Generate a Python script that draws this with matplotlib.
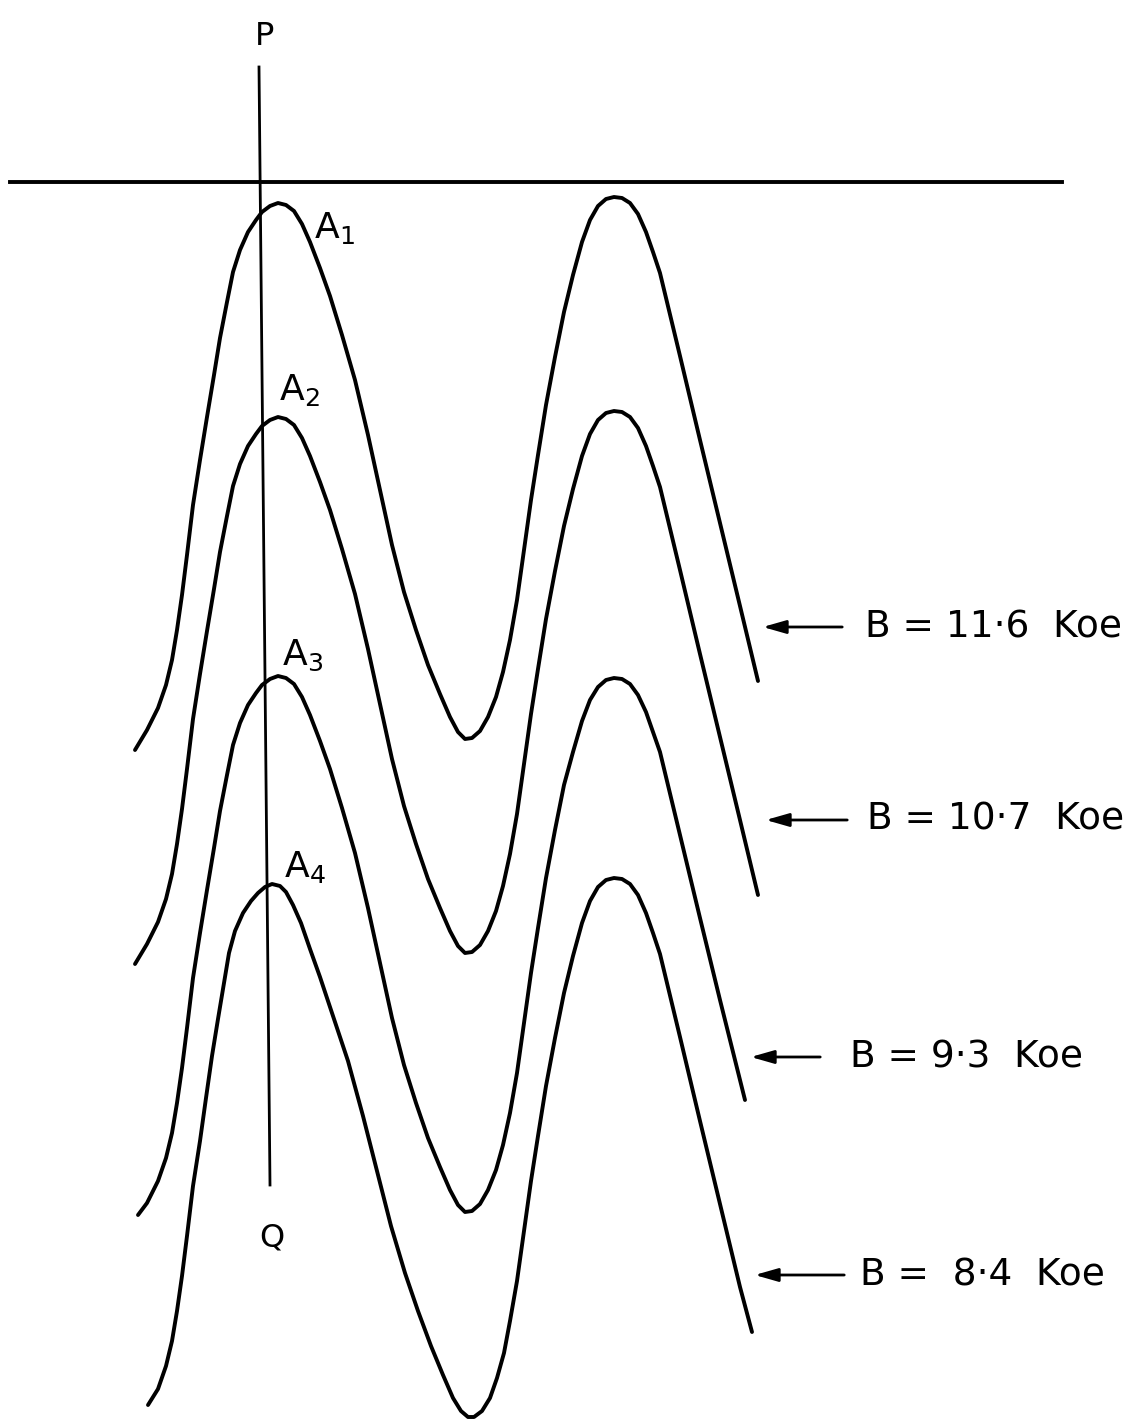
import matplotlib
matplotlib.use("Agg")
import matplotlib.pyplot as plt

plt.rcParams['font.family'] = ['DejaVu Sans']
plt.rcParams['mathtext.default'] = 'regular'

# curves (pixel coords, y down)
x_116 = [135, 147, 158, 166, 172, 177, 182, 187, 193, 200, 207, 214, 220, 227, 233, 240, 248, 256, 262, 270,
         278, 286, 294, 302, 310, 320, 330, 342, 355, 368, 380, 392, 404, 416, 428, 440, 450, 458, 465, 472,
         480, 488, 496, 503, 510, 517, 524, 531, 538, 546, 555, 564, 573, 582, 590, 598, 606, 614, 622, 630,
         638, 646, 653, 660, 680, 700, 720, 740, 758]
y_116 = [750, 730, 708, 685, 660, 630, 595, 555, 505, 460, 417, 375, 338, 302, 272, 250, 232, 220, 212, 206,
         203, 205, 211, 224, 242, 268, 296, 335, 380, 435, 490, 545, 592, 630, 665, 694, 717, 732, 739, 738,
         731, 717, 697, 672, 640, 600, 550, 500, 455, 405, 357, 312, 275, 242, 220, 206, 199, 197, 198, 203,
         214, 232, 252, 273, 356, 440, 523, 606, 681]

x_107 = x_116
y_107 = [964, 944, 922, 899, 874, 844, 809, 769, 719, 674, 631, 589, 552, 516, 486, 464, 446, 434, 426, 420,
         417, 419, 425, 438, 456, 482, 510, 549, 594, 649, 704, 759, 806, 844, 879, 908, 931, 946, 953, 952,
         945, 931, 911, 886, 854, 814, 764, 714, 669, 619, 571, 526, 489, 456, 434, 420, 413, 411, 412, 417,
         428, 446, 466, 487, 570, 654, 737, 820, 895]

x_93 = [138, 147, 158, 166, 172, 177, 182, 187, 193, 200, 207, 214, 220, 227, 233, 240, 248, 256, 262, 270,
        278, 286, 294, 302, 310, 320, 330, 342, 355, 368, 380, 392, 404, 416, 428, 440, 450, 458, 465, 472,
        480, 488, 496, 503, 510, 517, 524, 531, 538, 546, 555, 564, 573, 582, 590, 598, 606, 614, 622, 630,
        638, 646, 653, 660, 680, 700, 720, 745]
y_93 = [1215, 1203, 1181, 1158, 1133, 1103, 1068, 1028, 978, 933, 890, 848, 811, 775, 745, 723, 705, 693, 685, 679,
        676, 678, 684, 697, 715, 741, 769, 808, 853, 908, 963, 1018, 1065, 1103, 1138, 1167, 1190, 1205, 1212, 1211,
        1204, 1190, 1170, 1145, 1113, 1073, 1023, 973, 928, 878, 830, 785, 752, 721, 700, 687, 680, 678, 679, 684,
        695, 712, 732, 752, 835, 918, 1000, 1100]

x_84 = [148, 158, 166, 172, 177, 182, 187, 193, 200, 206, 212, 218, 224, 229, 235, 243, 251, 258, 265, 272,
        280, 286, 293, 301, 310, 320, 333, 348, 363, 377, 391, 405, 418, 431, 443, 453, 461, 468, 474, 482,
        490, 497, 504, 510, 517, 524, 531, 538, 546, 555, 564, 573, 582, 590, 598, 606, 614, 622, 630, 638,
        646, 653, 660, 680, 700, 720, 740, 752]
y_84 = [1405, 1389, 1366, 1341, 1311, 1276, 1236, 1186, 1141, 1098, 1056, 1019, 983, 953, 931, 913, 901, 893, 887, 884,
        886, 892, 905, 923, 949, 977, 1016, 1061, 1116, 1171, 1226, 1273, 1311, 1346, 1375, 1398, 1411, 1417, 1417, 1411,
        1398, 1378, 1353, 1321, 1281, 1231, 1181, 1136, 1086, 1038, 993, 956, 923, 901, 887, 880, 878, 879, 884, 895,
        913, 933, 954, 1037, 1121, 1204, 1287, 1332]

curves = [(x_116, y_116), (x_107, y_107), (x_93, y_93), (x_84, y_84)]

# field labels and their arrows
field_labels = ['B = 11·6  Koe', 'B = 10·7  Koe', 'B = 9·3  Koe', 'B =  8·4  Koe']
arrow_y = [627, 820, 1057, 1275]
arrow_tip = [760, 763, 748, 752]
arrow_tail = [845, 850, 823, 847]
label_x = [865, 867, 850, 860]

peak_names = ['A$_1$', 'A$_2$', 'A$_3$', 'A$_4$']
peak_label_x = [314, 279, 282, 284]
peak_label_y = [238, 400, 665, 877]

fig = plt.figure(figsize=(11.48, 14.21), dpi=100)
ax = fig.add_axes([0, 0, 1, 1])
ax.set_xlim(0, 1148)
ax.set_ylim(1421, 0)
ax.axis('off')

for xs, ys in curves:
    ax.plot(xs, ys, color='black', lw=2.8, solid_joinstyle='round', solid_capstyle='round')

# baseline and the PQ line
ax.plot([10, 1062], [182, 182], color='black', lw=2.8)
ax.plot([259, 270], [67, 1185], color='black', lw=2.0)
ax.text(265, 45, 'P', fontsize=23, ha='center', va='baseline')
ax.text(272, 1246, 'Q', fontsize=23, ha='center', va='baseline')

for name, lx, ly in zip(peak_names, peak_label_x, peak_label_y):
    ax.text(lx, ly, name, fontsize=26, ha='left', va='baseline')

for lab, ay, tip, tail, lx in zip(field_labels, arrow_y, arrow_tip, arrow_tail, label_x):
    ax.annotate('', xy=(tip, ay), xytext=(tail, ay),
                arrowprops=dict(arrowstyle='-|>,head_length=1.4,head_width=0.4', color='black', lw=2))
    ax.text(lx, ay, lab, fontsize=27, ha='left', va='center')

fig.savefig('out.png', dpi=100, facecolor='white')
